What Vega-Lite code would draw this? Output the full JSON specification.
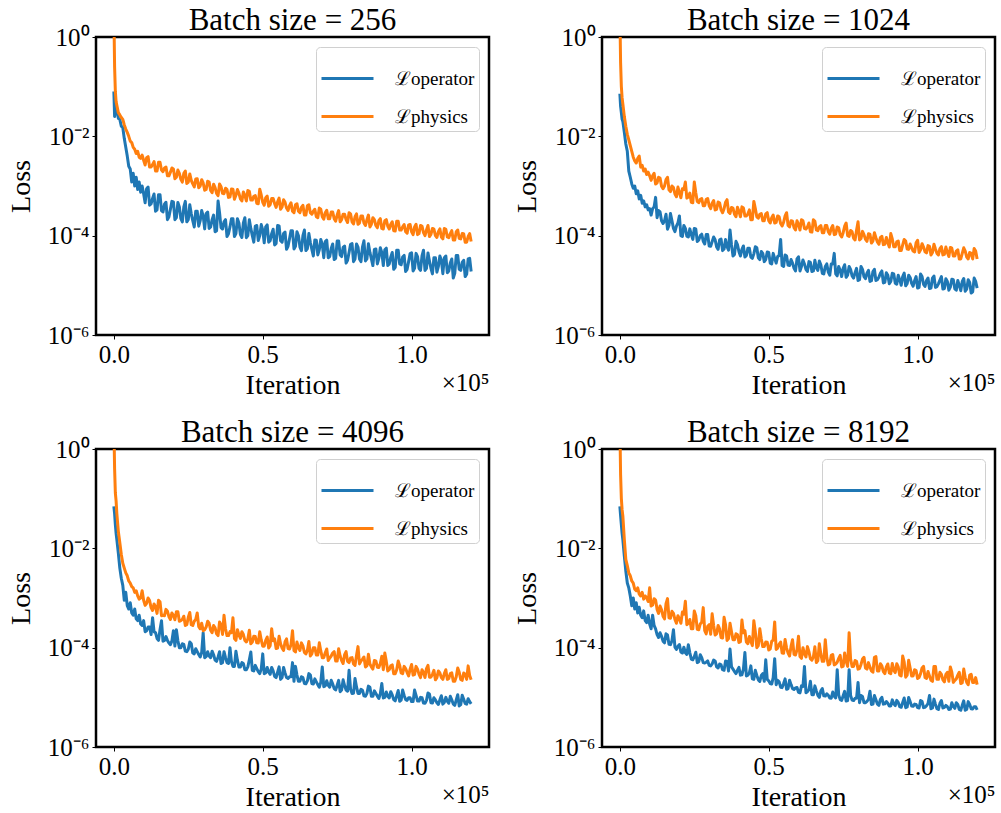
{
"$schema": "https://vega.github.io/schema/vega-lite/v6.json",
"padding": {"left": 5, "top": 3, "right": 0, "bottom": 0},
"bounds": "flush",
"spacing": {"row": 114, "column": 113},
"columns": 2,
"config": {
 "font": "Liberation Serif",
 "view": {"stroke": "black", "strokeWidth": 2.5},
 "axis": {"domain": false, "grid": false, "tickColor": "black", "tickSize": 4, "tickWidth": 1, "labelColor": "black", "titleColor": "black", "labelFont": "Liberation Serif", "titleFont": "Liberation Serif", "labelFontSize": 25, "titleFontSize": 28, "titleFontWeight": "normal", "labelPadding": 3},
 "title": {"font": "Liberation Serif", "fontSize": 31, "fontWeight": "normal", "color": "black", "offset": -12, "baseline": "alphabetic"},
 "legend": {"orient": "top-right", "offset": 10, "symbolType": "stroke", "symbolSize": 2704, "symbolStrokeWidth": 3, "labelFontSize": 19, "labelFont": "Liberation Serif", "labelColor": "black", "fillColor": "rgba(255,255,255,0.8)", "strokeColor": "#d0d0d0", "cornerRadius": 4, "padding": 4, "rowPadding": -1, "labelOffset": 20}
},
"resolve": {"scale": {"color": "independent"}, "legend": {"color": "independent"}},
"datasets": {
"d256": [
{"i":0,"o":8e-2,"p":3},{"i":250,"o":2.5e-2,"p":0.25},{"i":500,"o":5e-2,"p":8e-2},{"i":750,"o":2.8e-2,"p":5e-2},{"i":1000,"o":3.5e-2,"p":4.2e-2},{"i":1500,"o":2.3e-2,"p":3e-2},{"i":2000,"o":2.2e-2,"p":2.7e-2},{"i":2500,"o":1.6e-2,"p":2.4e-2},{"i":3000,"o":1.5e-2,"p":2.2e-2},{"i":3500,"o":9e-3,"p":1.7e-2},{"i":4000,"o":6e-3,"p":1.4e-2},{"i":4500,"o":4e-3,"p":1.2e-2},{"i":5000,"o":2.5e-3,"p":1e-2},{"i":5500,"o":2.2e-3,"p":8e-3},{"i":6000,"o":1.2e-3,"p":7.5e-3},{"i":6500,"o":1.8e-3,"p":6e-3},{"i":7000,"o":1e-3,"p":5.5e-3},{"i":7500,"o":1.5e-3,"p":4.5e-3},{"i":8000,"o":8.5e-4,"p":5e-3},{"i":8500,"o":1.2e-3,"p":3.8e-3},{"i":9000,"o":7.5e-4,"p":3.6e-3},{"i":9500,"o":1e-3,"p":4.2e-3},{"i":10000,"o":7e-4,"p":3.3e-3},
{"i":11000,"o":8.8e-4,"p":3.7e-3},{"i":12000,"o":4.1e-4,"p":2.4e-3},{"i":13000,"o":5.6e-4,"p":2.7e-3},{"i":14000,"o":3.1e-4,"p":2.0e-3},{"i":15000,"o":6.7e-4,"p":3.0e-3},{"i":16000,"o":3.2e-4,"p":2.1e-3},{"i":17000,"o":4.3e-4,"p":2.3e-3},{"i":18000,"o":2.1e-4,"p":1.6e-3},{"i":19000,"o":3.4e-4,"p":1.9e-3},{"i":20000,"o":4.8e-4,"p":2.2e-3},
{"i":21000,"o":2.3e-4,"p":1.5e-3},{"i":22000,"o":3.8e-4,"p":1.8e-3},{"i":23000,"o":1.9e-4,"p":1.2e-3},{"i":24000,"o":4.9e-4,"p":2.0e-3},{"i":25000,"o":2.1e-4,"p":1.2e-3},{"i":26000,"o":2.75e-4,"p":1.3e-3},{"i":27000,"o":1.5e-4,"p":9.6e-4},{"i":28000,"o":3.1e-4,"p":1.4e-3},{"i":29000,"o":2.0e-4,"p":1.0e-3},{"i":30000,"o":2.5e-4,"p":1.15e-3},
{"i":31000,"o":2.8e-4,"p":8.5e-4},{"i":32000,"o":1.4e-4,"p":1.2e-3},{"i":33000,"o":2.1e-4,"p":7.3e-4},{"i":34000,"o":1.2e-4,"p":9.3e-4},{"i":35000,"o":5.0e-4,"p":6.4e-4},{"i":36000,"o":1.45e-4,"p":9.7e-4},{"i":37000,"o":1.9e-4,"p":7.0e-4},{"i":38000,"o":9.6e-5,"p":8.5e-4},{"i":39000,"o":1.5e-4,"p":6.0e-4},{"i":40000,"o":2.2e-4,"p":8.6e-4},
{"i":41000,"o":1.1e-4,"p":6.5e-4},{"i":42000,"o":1.8e-4,"p":7.2e-4},{"i":43000,"o":9.2e-5,"p":5.0e-4},{"i":44000,"o":2.3e-4,"p":6.5e-4},{"i":45000,"o":1.0e-4,"p":8.1e-4},{"i":46000,"o":1.4e-4,"p":5.2e-4},{"i":47000,"o":7.4e-5,"p":6.2e-4},{"i":48000,"o":1.6e-4,"p":4.5e-4},{"i":49000,"o":1.0e-4,"p":8.6e-4},{"i":50000,"o":1.3e-4,"p":4.7e-4},
{"i":51000,"o":1.5e-4,"p":5.8e-4},{"i":52000,"o":7.4e-5,"p":3.9e-4},{"i":53000,"o":1.1e-4,"p":5.6e-4},{"i":54000,"o":6.5e-5,"p":4.4e-4},{"i":55000,"o":1.6e-4,"p":4.8e-4},{"i":56000,"o":7.9e-5,"p":3.4e-4},{"i":57000,"o":1.1e-4,"p":5.3e-4},{"i":58000,"o":5.3e-5,"p":3.6e-4},{"i":59000,"o":8.7e-5,"p":4.0e-4},{"i":60000,"o":1.25e-4,"p":3.1e-4},
{"i":61000,"o":6.1e-5,"p":4.2e-4},{"i":62000,"o":1.0e-4,"p":3.1e-4},{"i":63000,"o":5.0e-5,"p":3.7e-4},{"i":64000,"o":1.3e-4,"p":2.6e-4},{"i":65000,"o":5.5e-5,"p":4.0e-4},{"i":66000,"o":7.3e-5,"p":2.9e-4},{"i":67000,"o":3.9e-5,"p":3.1e-4},{"i":68000,"o":8.1e-5,"p":2.4e-4},{"i":69000,"o":5.2e-5,"p":3.6e-4},{"i":70000,"o":6.7e-5,"p":2.4e-4},
{"i":71000,"o":7.6e-5,"p":2.9e-4},{"i":72000,"o":3.6e-5,"p":2.2e-4},{"i":73000,"o":5.5e-5,"p":3.0e-4},{"i":74000,"o":3.3e-5,"p":2.2e-4},{"i":75000,"o":7.8e-5,"p":2.6e-4},{"i":76000,"o":4.1e-5,"p":1.9e-4},{"i":77000,"o":5.8e-5,"p":2.7e-4},{"i":78000,"o":2.8e-5,"p":2.1e-4},{"i":79000,"o":4.6e-5,"p":2.9e-4},{"i":80000,"o":6.9e-5,"p":1.9e-4},
{"i":81000,"o":3.4e-5,"p":2.4e-4},{"i":82000,"o":5.9e-5,"p":1.7e-4},{"i":83000,"o":3.0e-5,"p":2.5e-4},{"i":84000,"o":7.9e-5,"p":1.8e-4},{"i":85000,"o":3.4e-5,"p":2.1e-4},{"i":86000,"o":4.6e-5,"p":1.5e-4},{"i":87000,"o":2.5e-5,"p":2.3e-4},{"i":88000,"o":5.4e-5,"p":1.6e-4},{"i":89000,"o":3.5e-5,"p":2.0e-4},{"i":90000,"o":4.6e-5,"p":1.4e-4},
{"i":91000,"o":5.2e-5,"p":2.0e-4},{"i":92000,"o":2.5e-5,"p":1.55e-4},{"i":93000,"o":3.7e-5,"p":1.7e-4},{"i":94000,"o":2.1e-5,"p":1.25e-4},{"i":95000,"o":5.1e-5,"p":1.95e-4},{"i":96000,"o":2.7e-5,"p":1.3e-4},{"i":97000,"o":3.7e-5,"p":1.5e-4},{"i":98000,"o":1.9e-5,"p":1.2e-4},{"i":99000,"o":3.0e-5,"p":1.65e-4},{"i":100000,"o":4.5e-5,"p":1.2e-4},
{"i":101000,"o":2.2e-5,"p":1.5e-4},{"i":102000,"o":3.8e-5,"p":1.05e-4},{"i":103000,"o":2.0e-5,"p":1.6e-4},{"i":104000,"o":5.1e-5,"p":1.15e-4},{"i":105000,"o":2.2e-5,"p":1.3e-4},{"i":106000,"o":3.1e-5,"p":9.6e-5},{"i":107000,"o":1.7e-5,"p":1.4e-4},{"i":108000,"o":3.6e-5,"p":1.0e-4},{"i":109000,"o":2.4e-5,"p":1.2e-4},{"i":110000,"o":3.2e-5,"p":9.4e-5},
{"i":111000,"o":3.6e-5,"p":1.4e-4},{"i":112000,"o":1.8e-5,"p":9.4e-5},{"i":113000,"o":2.8e-5,"p":1.1e-4},{"i":114000,"o":1.4e-5,"p":8.2e-5},{"i":115000,"o":4.0e-5,"p":1.2e-4},{"i":116000,"o":2.1e-5,"p":8.8e-5},{"i":117000,"o":2.9e-5,"p":1.1e-4},{"i":118000,"o":1.5e-5,"p":7.4e-5},{"i":119000,"o":3.4e-5,"p":9.6e-5},{"i":120000,"o":1.9e-5,"p":7.6e-5},
{"i":10500,"o":4.6e-4,"p":2.65e-3},{"i":11500,"o":9.5e-4,"p":3.9e-3},{"i":12500,"o":4.35e-4,"p":2.4e-3},{"i":13500,"o":6.9e-4,"p":3.1e-3},{"i":14500,"o":3.3e-4,"p":2.0e-3},{"i":15500,"o":6.7e-4,"p":3.0e-3},{"i":16500,"o":3.0e-4,"p":1.94e-3},{"i":17500,"o":4.7e-4,"p":2.4e-3},{"i":18500,"o":2.4e-4,"p":1.6e-3},{"i":19500,"o":4.9e-4,"p":2.3e-3},
{"i":20500,"o":2.1e-4,"p":1.4e-3},{"i":21500,"o":4.65e-4,"p":2.1e-3},{"i":22500,"o":2.2e-4,"p":1.36e-3},{"i":23500,"o":3.8e-4,"p":1.8e-3},{"i":24500,"o":1.9e-4,"p":1.12e-3},{"i":25500,"o":4.2e-4,"p":1.75e-3},{"i":26500,"o":2.0e-4,"p":1.1e-3},{"i":27500,"o":3.1e-4,"p":1.38e-3},{"i":28500,"o":1.55e-4,"p":9.2e-4},{"i":29500,"o":3.2e-4,"p":1.34e-3},
{"i":30500,"o":1.37e-4,"p":8.2e-4},{"i":31500,"o":3.0e-4,"p":1.25e-3},{"i":32500,"o":1.5e-4,"p":8.1e-4},{"i":33500,"o":2.6e-4,"p":1.09e-3},{"i":34500,"o":1.26e-4,"p":7.1e-4},{"i":35500,"o":2.9e-4,"p":1.1e-3},{"i":36500,"o":1.36e-4,"p":7.1e-4},{"i":37500,"o":2.1e-4,"p":9.0e-4},{"i":38500,"o":1.09e-4,"p":5.9e-4},{"i":39500,"o":2.2e-4,"p":8.7e-4},
{"i":40500,"o":9.6e-5,"p":5.4e-4},{"i":41500,"o":2.2e-4,"p":8.5e-4},{"i":42500,"o":1.05e-4,"p":5.5e-4},{"i":43500,"o":1.8e-4,"p":7.6e-4},{"i":44500,"o":9.1e-5,"p":5.0e-4},{"i":45500,"o":2.1e-4,"p":7.8e-4},{"i":46500,"o":1.0e-4,"p":5.2e-4},{"i":47500,"o":1.56e-4,"p":6.4e-4},{"i":48500,"o":8.0e-5,"p":4.4e-4},{"i":49500,"o":1.67e-4,"p":6.6e-4},
{"i":50500,"o":7.2e-5,"p":4.1e-4},{"i":51500,"o":1.65e-4,"p":6.25e-4},{"i":52500,"o":7.9e-5,"p":4.2e-4},{"i":53500,"o":1.35e-4,"p":5.6e-4},{"i":54500,"o":7.0e-5,"p":3.7e-4},{"i":55500,"o":1.57e-4,"p":5.7e-4},{"i":56500,"o":7.4e-5,"p":3.8e-4},{"i":57500,"o":1.18e-4,"p":4.7e-4},{"i":58500,"o":6.1e-5,"p":3.2e-4},{"i":59500,"o":1.26e-4,"p":4.6e-4},
{"i":60500,"o":5.4e-5,"p":2.9e-4},{"i":61500,"o":1.2e-4,"p":4.4e-4},{"i":62500,"o":5.9e-5,"p":2.9e-4},{"i":63500,"o":1.0e-4,"p":4.1e-4},{"i":64500,"o":5.0e-5,"p":2.6e-4},{"i":65500,"o":1.1e-4,"p":4.2e-4},{"i":66500,"o":5.3e-5,"p":2.7e-4},{"i":67500,"o":8.2e-5,"p":3.4e-4},{"i":68500,"o":4.1e-5,"p":2.3e-4},{"i":69500,"o":8.4e-5,"p":3.4e-4},
{"i":70500,"o":3.6e-5,"p":2.15e-4},{"i":71500,"o":8.1e-5,"p":3.25e-4},{"i":72500,"o":3.8e-5,"p":2.2e-4},{"i":73500,"o":6.8e-5,"p":3.0e-4},{"i":74500,"o":3.5e-5,"p":1.96e-4},{"i":75500,"o":7.8e-5,"p":3.2e-4},{"i":76500,"o":3.8e-5,"p":2.1e-4},{"i":77500,"o":6.2e-5,"p":2.7e-4},{"i":78500,"o":3.2e-5,"p":1.84e-4},{"i":79500,"o":6.7e-5,"p":2.75e-4},
{"i":80500,"o":3.0e-5,"p":1.72e-4},{"i":81500,"o":6.8e-5,"p":2.75e-4},{"i":82500,"o":3.4e-5,"p":1.8e-4},{"i":83500,"o":5.9e-5,"p":2.5e-4},{"i":84500,"o":3.1e-5,"p":1.6e-4},{"i":85500,"o":6.9e-5,"p":2.6e-4},{"i":86500,"o":3.4e-5,"p":1.7e-4},{"i":87500,"o":5.3e-5,"p":2.1e-4},{"i":88500,"o":2.7e-5,"p":1.44e-4},{"i":89500,"o":5.7e-5,"p":2.2e-4},
{"i":90500,"o":2.5e-5,"p":1.36e-4},{"i":91500,"o":5.6e-5,"p":2.1e-4},{"i":92500,"o":2.7e-5,"p":1.36e-4},{"i":93500,"o":4.6e-5,"p":1.9e-4},{"i":94500,"o":2.3e-5,"p":1.24e-4},{"i":95500,"o":5.1e-5,"p":1.95e-4},{"i":96500,"o":2.6e-5,"p":1.3e-4},{"i":97500,"o":4.0e-5,"p":1.67e-4},{"i":98500,"o":2.1e-5,"p":1.12e-4},{"i":99500,"o":4.35e-5,"p":1.68e-4},
{"i":100500,"o":1.95e-5,"p":1.05e-4},{"i":101500,"o":4.4e-5,"p":1.7e-4},{"i":102500,"o":2.2e-5,"p":1.1e-4},{"i":103500,"o":3.9e-5,"p":1.56e-4},{"i":104500,"o":2.0e-5,"p":1.0e-4},{"i":105500,"o":4.5e-5,"p":1.6e-4},{"i":106500,"o":2.2e-5,"p":1.06e-4},{"i":107500,"o":3.6e-5,"p":1.35e-4},{"i":108500,"o":1.84e-5,"p":9.2e-5},{"i":109500,"o":3.9e-5,"p":1.37e-4},
{"i":110500,"o":1.72e-5,"p":8.6e-5},{"i":111500,"o":3.9e-5,"p":1.34e-4},{"i":112500,"o":1.95e-5,"p":9.1e-5},{"i":113500,"o":3.4e-5,"p":1.26e-4},{"i":114500,"o":1.75e-5,"p":8.2e-5},{"i":115500,"o":4.0e-5,"p":1.3e-4},{"i":116500,"o":2.0e-5,"p":8.6e-5},{"i":117500,"o":3.2e-5,"p":1.09e-4},{"i":118500,"o":1.67e-5,"p":7.4e-5},{"i":119500,"o":3.5e-5,"p":1.1e-4}
],
"d1024": [
{"i":0,"o":7.2e-2,"p":3},{"i":250,"o":4e-2,"p":0.3},{"i":500,"o":3e-2,"p":0.1},{"i":750,"o":2.2e-2,"p":6e-2},{"i":1000,"o":2e-2,"p":4.5e-2},{"i":1500,"o":1.2e-2,"p":2.5e-2},{"i":2000,"o":7e-3,"p":1.6e-2},{"i":2500,"o":5e-3,"p":1.1e-2},{"i":3000,"o":2e-3,"p":8.5e-3},{"i":3500,"o":1.5e-3,"p":6.5e-3},{"i":4000,"o":1.1e-3,"p":5e-3},{"i":4500,"o":9e-4,"p":3.8e-3},{"i":5000,"o":1e-3,"p":3.2e-3},{"i":5500,"o":7e-4,"p":2.9e-3},{"i":6000,"o":8e-4,"p":3.6e-3},{"i":6500,"o":5.5e-4,"p":4e-3},{"i":7000,"o":6.5e-4,"p":2.4e-3},{"i":7500,"o":4.5e-4,"p":2.6e-3},{"i":8000,"o":5e-4,"p":2e-3},{"i":8500,"o":3.8e-4,"p":2.2e-3},{"i":9000,"o":4.2e-4,"p":1.7e-3},{"i":9500,"o":3.3e-4,"p":1.9e-3},{"i":10000,"o":3.5e-4,"p":1.6e-3},
{"i":11000,"o":3.5e-4,"p":1.6e-3},{"i":12000,"o":5.9e-4,"p":1.1e-3},{"i":13000,"o":3.2e-4,"p":1.5e-3},{"i":14000,"o":2.0e-4,"p":9.9e-4},{"i":15000,"o":2.0e-4,"p":1.0e-3},{"i":16000,"o":1.35e-4,"p":1.5e-3},{"i":17000,"o":2.8e-4,"p":7.7e-4},{"i":18000,"o":1.4e-4,"p":9.3e-4},{"i":19000,"o":1.55e-4,"p":6.1e-4},{"i":20000,"o":2.5e-4,"p":7.4e-4},
{"i":21000,"o":9.6e-5,"p":8.8e-4},{"i":22000,"o":1.4e-4,"p":1.2e-3},{"i":23000,"o":9.4e-5,"p":6.0e-4},{"i":24000,"o":1.05e-4,"p":4.7e-4},{"i":25000,"o":1.4e-4,"p":1.2e-3},{"i":26000,"o":7.6e-5,"p":4.9e-4},{"i":27000,"o":1.0e-4,"p":5.4e-4},{"i":28000,"o":7.7e-5,"p":4.0e-4},{"i":29000,"o":1.05e-4,"p":5.4e-4},{"i":30000,"o":6.2e-5,"p":4.0e-4},
{"i":31000,"o":7.6e-5,"p":4.5e-4},{"i":32000,"o":8.3e-5,"p":3.3e-4},{"i":33000,"o":5.3e-5,"p":4.75e-4},{"i":34000,"o":8.5e-5,"p":3.3e-4},{"i":35000,"o":5.4e-5,"p":3.5e-4},{"i":36000,"o":6.0e-5,"p":5.3e-4},{"i":37000,"o":1.3e-4,"p":2.8e-4},{"i":38000,"o":3.9e-5,"p":3.6e-4},{"i":39000,"o":7.7e-5,"p":2.4e-4},{"i":40000,"o":4.75e-5,"p":3.1e-4},
{"i":41000,"o":5.3e-5,"p":3.8e-4},{"i":42000,"o":3.7e-5,"p":2.5e-4},{"i":43000,"o":5.6e-5,"p":2.75e-4},{"i":44000,"o":3.7e-5,"p":2.1e-4},{"i":45000,"o":4.3e-5,"p":4.9e-4},{"i":46000,"o":5.7e-5,"p":2.4e-4},{"i":47000,"o":3.3e-5,"p":2.7e-4},{"i":48000,"o":4.4e-5,"p":2.0e-4},{"i":49000,"o":3.3e-5,"p":2.75e-4},{"i":50000,"o":4.6e-5,"p":2.0e-4},
{"i":51000,"o":2.7e-5,"p":2.3e-4},{"i":52000,"o":3.5e-5,"p":1.8e-4},{"i":53000,"o":3.8e-5,"p":2.5e-4},{"i":54000,"o":8.4e-5,"p":1.75e-4},{"i":55000,"o":2.4e-5,"p":1.86e-4},{"i":56000,"o":3.9e-5,"p":2.9e-4},{"i":57000,"o":2.5e-5,"p":1.5e-4},{"i":58000,"o":2.8e-5,"p":1.95e-4},{"i":59000,"o":1.95e-5,"p":1.3e-4},{"i":60000,"o":3.75e-5,"p":1.7e-4},
{"i":61000,"o":2.4e-5,"p":2.1e-4},{"i":62000,"o":2.7e-5,"p":1.4e-4},{"i":63000,"o":1.9e-5,"p":1.5e-4},{"i":64000,"o":2.9e-5,"p":1.2e-4},{"i":65000,"o":1.95e-5,"p":2.1e-4},{"i":66000,"o":2.25e-5,"p":1.3e-4},{"i":67000,"o":3.1e-5,"p":1.5e-4},{"i":68000,"o":1.75e-5,"p":1.15e-4},{"i":69000,"o":2.4e-5,"p":1.6e-4},{"i":70000,"o":1.85e-5,"p":1.2e-4},
{"i":71000,"o":2.7e-5,"p":1.4e-4},{"i":72000,"o":4.4e-5,"p":1.05e-4},{"i":73000,"o":1.55e-5,"p":1.5e-4},{"i":74000,"o":2.0e-5,"p":1.05e-4},{"i":75000,"o":2.2e-5,"p":1.15e-4},{"i":76000,"o":1.45e-5,"p":1.8e-4},{"i":77000,"o":2.4e-5,"p":9.7e-5},{"i":78000,"o":1.55e-5,"p":1.2e-4},{"i":79000,"o":1.8e-5,"p":8.2e-5},{"i":80000,"o":1.25e-5,"p":1.9e-4},
{"i":81000,"o":2.4e-5,"p":8.8e-5},{"i":82000,"o":1.5e-5,"p":1.05e-4},{"i":83000,"o":1.75e-5,"p":7.7e-5},{"i":84000,"o":1.2e-5,"p":1.07e-4},{"i":85000,"o":1.9e-5,"p":7.8e-5},{"i":86000,"o":1.25e-5,"p":9.1e-5},{"i":87000,"o":1.45e-5,"p":6.7e-5},{"i":88000,"o":1.95e-5,"p":9.7e-5},{"i":89000,"o":1.15e-5,"p":6.7e-5},{"i":90000,"o":1.6e-5,"p":7.2e-5},
{"i":91000,"o":1.2e-5,"p":1.1e-4},{"i":92000,"o":1.7e-5,"p":6.0e-5},{"i":93000,"o":1.05e-5,"p":7.5e-5},{"i":94000,"o":1.3e-5,"p":5.0e-5},{"i":95000,"o":1.5e-5,"p":6.5e-5},{"i":96000,"o":9.8e-6,"p":7.8e-5},{"i":97000,"o":1.6e-5,"p":5.3e-5},{"i":98000,"o":1.1e-5,"p":5.75e-5},{"i":99000,"o":1.25e-5,"p":4.7e-5},{"i":100000,"o":8.8e-6,"p":8.1e-5},
{"i":101000,"o":1.7e-5,"p":5.2e-5},{"i":102000,"o":1.05e-5,"p":5.9e-5},{"i":103000,"o":1.25e-5,"p":4.5e-5},{"i":104000,"o":8.6e-6,"p":6.1e-5},{"i":105000,"o":1.4e-5,"p":4.6e-5},{"i":106000,"o":9.1e-6,"p":5.4e-5},{"i":107000,"o":1.07e-5,"p":4.1e-5},{"i":108000,"o":1.5e-5,"p":6.0e-5},{"i":109000,"o":8.6e-6,"p":4.2e-5},{"i":110000,"o":1.2e-5,"p":4.6e-5},
{"i":111000,"o":9.2e-6,"p":5.8e-5},{"i":112000,"o":1.3e-5,"p":3.9e-5},{"i":113000,"o":8.0e-6,"p":4.9e-5},{"i":114000,"o":1.0e-5,"p":3.4e-5},{"i":115000,"o":1.2e-5,"p":4.4e-5},{"i":116000,"o":7.6e-6,"p":4.9e-5},{"i":117000,"o":1.3e-5,"p":3.4e-5},{"i":118000,"o":7.0e-6,"p":4.4e-5},{"i":119000,"o":1.4e-5,"p":5.5e-5},{"i":120000,"o":8.8e-6,"p":3.4e-5},
{"i":10500,"o":2.6e-4,"p":1.3e-3},{"i":11500,"o":3.8e-4,"p":1.8e-3},{"i":12500,"o":2.3e-4,"p":1.15e-3},{"i":13500,"o":3.0e-4,"p":1.45e-3},{"i":14500,"o":1.76e-4,"p":8.8e-4},{"i":15500,"o":2.7e-4,"p":1.35e-3},{"i":16500,"o":1.6e-4,"p":8.4e-4},{"i":17500,"o":2.0e-4,"p":1.0e-3},{"i":18500,"o":1.2e-4,"p":6.9e-4},{"i":19500,"o":1.8e-4,"p":9.5e-4},
{"i":20500,"o":1.0e-4,"p":5.8e-4},{"i":21500,"o":1.6e-4,"p":8.5e-4},{"i":22500,"o":9.8e-5,"p":5.7e-4},{"i":23500,"o":1.37e-4,"p":7.2e-4},{"i":24500,"o":8.4e-5,"p":4.6e-4},{"i":25500,"o":1.37e-4,"p":7.3e-4},{"i":26500,"o":8.2e-5,"p":4.6e-4},{"i":27500,"o":1.07e-4,"p":5.6e-4},{"i":28500,"o":6.8e-5,"p":4.0e-4},{"i":29500,"o":1.05e-4,"p":5.6e-4},
{"i":30500,"o":6.1e-5,"p":3.5e-4},{"i":31500,"o":9.4e-5,"p":5.1e-4},{"i":32500,"o":5.9e-5,"p":3.4e-4},{"i":33500,"o":8.2e-5,"p":4.6e-4},{"i":34500,"o":5.0e-5,"p":2.9e-4},{"i":35500,"o":8.4e-5,"p":4.7e-4},{"i":36500,"o":5.1e-5,"p":3.0e-4},{"i":37500,"o":6.6e-5,"p":3.7e-4},{"i":38500,"o":4.2e-5,"p":2.7e-4},{"i":39500,"o":6.6e-5,"p":3.75e-4},
{"i":40500,"o":3.9e-5,"p":2.4e-4},{"i":41500,"o":6.2e-5,"p":3.6e-4},{"i":42500,"o":4.0e-5,"p":2.5e-4},{"i":43500,"o":5.6e-5,"p":3.3e-4},{"i":44500,"o":3.5e-5,"p":2.1e-4},{"i":45500,"o":6.0e-5,"p":3.5e-4},{"i":46500,"o":3.6e-5,"p":2.25e-4},{"i":47500,"o":4.8e-5,"p":2.8e-4},{"i":48500,"o":3.0e-5,"p":2.0e-4},{"i":49500,"o":4.7e-5,"p":2.9e-4},
{"i":50500,"o":2.8e-5,"p":1.8e-4},{"i":51500,"o":4.4e-5,"p":2.6e-4},{"i":52500,"o":2.8e-5,"p":1.85e-4},{"i":53500,"o":4.0e-5,"p":2.4e-4},{"i":54500,"o":2.5e-5,"p":1.56e-4},{"i":55500,"o":4.1e-5,"p":2.5e-4},{"i":56500,"o":2.55e-5,"p":1.6e-4},{"i":57500,"o":3.3e-5,"p":2.0e-4},{"i":58500,"o":2.2e-5,"p":1.45e-4},{"i":59500,"o":3.4e-5,"p":2.0e-4},
{"i":60500,"o":1.95e-5,"p":1.3e-4},{"i":61500,"o":3.25e-5,"p":2.0e-4},{"i":62500,"o":2.1e-5,"p":1.36e-4},{"i":63500,"o":3.0e-5,"p":1.8e-4},{"i":64500,"o":1.9e-5,"p":1.18e-4},{"i":65500,"o":3.2e-5,"p":1.95e-4},{"i":66500,"o":2.0e-5,"p":1.26e-4},{"i":67500,"o":2.6e-5,"p":1.6e-4},{"i":68500,"o":1.7e-5,"p":1.15e-4},{"i":69500,"o":2.7e-5,"p":1.6e-4},
{"i":70500,"o":1.6e-5,"p":1.07e-4},{"i":71500,"o":2.7e-5,"p":1.6e-4},{"i":72500,"o":1.7e-5,"p":1.08e-4},{"i":73500,"o":2.4e-5,"p":1.44e-4},{"i":74500,"o":1.5e-5,"p":9.4e-5},{"i":75500,"o":2.6e-5,"p":1.55e-4},{"i":76500,"o":1.6e-5,"p":1.0e-4},{"i":77500,"o":2.1e-5,"p":1.27e-4},{"i":78500,"o":1.4e-5,"p":8.9e-5},{"i":79500,"o":2.2e-5,"p":1.28e-4},
{"i":80500,"o":1.3e-5,"p":8.2e-5},{"i":81500,"o":2.1e-5,"p":1.22e-4},{"i":82500,"o":1.36e-5,"p":8.4e-5},{"i":83500,"o":2.0e-5,"p":1.09e-4},{"i":84500,"o":1.24e-5,"p":7.1e-5},{"i":85500,"o":2.1e-5,"p":1.15e-4},{"i":86500,"o":1.3e-5,"p":7.5e-5},{"i":87500,"o":1.74e-5,"p":9.1e-5},{"i":88500,"o":1.12e-5,"p":6.6e-5},{"i":89500,"o":1.8e-5,"p":9.2e-5},
{"i":90500,"o":1.08e-5,"p":5.9e-5},{"i":91500,"o":1.75e-5,"p":8.6e-5},{"i":92500,"o":1.1e-5,"p":6.0e-5},{"i":93500,"o":1.6e-5,"p":7.8e-5},{"i":94500,"o":1.0e-5,"p":5.0e-5},{"i":95500,"o":1.76e-5,"p":8.4e-5},{"i":96500,"o":1.08e-5,"p":5.4e-5},{"i":97500,"o":1.44e-5,"p":6.8e-5},{"i":98500,"o":9.6e-6,"p":4.9e-5},{"i":99500,"o":1.5e-5,"p":7.2e-5},
{"i":100500,"o":9.1e-6,"p":4.6e-5},{"i":101500,"o":1.5e-5,"p":6.9e-5},{"i":102500,"o":9.5e-6,"p":4.75e-5},{"i":103500,"o":1.4e-5,"p":6.3e-5},{"i":104500,"o":8.8e-6,"p":4.1e-5},{"i":105500,"o":1.54e-5,"p":6.75e-5},{"i":106500,"o":9.4e-6,"p":4.4e-5},{"i":107500,"o":1.28e-5,"p":5.5e-5},{"i":108500,"o":8.4e-6,"p":4.1e-5},{"i":109500,"o":1.36e-5,"p":5.9e-5},
{"i":110500,"o":8.0e-6,"p":3.8e-5},{"i":111500,"o":1.33e-5,"p":5.6e-5},{"i":112500,"o":8.5e-6,"p":3.9e-5},{"i":113500,"o":1.25e-5,"p":5.2e-5},{"i":114500,"o":7.8e-6,"p":3.4e-5},{"i":115500,"o":1.37e-5,"p":5.7e-5},{"i":116500,"o":8.4e-6,"p":3.7e-5},{"i":117500,"o":1.14e-5,"p":4.6e-5},{"i":118500,"o":7.4e-6,"p":3.4e-5},{"i":119500,"o":1.2e-5,"p":4.9e-5}
],
"d4096": [
{"i":0,"o":7e-2,"p":3},{"i":250,"o":5e-2,"p":0.4},{"i":500,"o":3e-2,"p":0.13},{"i":750,"o":2e-2,"p":9e-2},{"i":1000,"o":1.5e-2,"p":5e-2},{"i":1500,"o":8e-3,"p":2.2e-2},{"i":2000,"o":4e-3,"p":1.3e-2},{"i":2500,"o":2.5e-3,"p":7.5e-3},{"i":3000,"o":1.8e-3,"p":5e-3},{"i":3500,"o":9e-4,"p":4e-3},{"i":4000,"o":1.3e-3,"p":3.2e-3},{"i":4500,"o":7e-4,"p":2.8e-3},{"i":5000,"o":6e-4,"p":2.2e-3},{"i":5500,"o":8e-4,"p":2e-3},{"i":6000,"o":5e-4,"p":1.7e-3},{"i":6500,"o":4.5e-4,"p":1.6e-3},{"i":7000,"o":6e-4,"p":1.3e-3},{"i":7500,"o":3.8e-4,"p":1.4e-3},{"i":8000,"o":3.5e-4,"p":1.1e-3},{"i":8500,"o":4.5e-4,"p":9.5e-4},{"i":9000,"o":3e-4,"p":1e-3},{"i":9500,"o":2.8e-4,"p":1.4e-3},{"i":10000,"o":3.5e-4,"p":9e-4},
{"i":11000,"o":2.2e-4,"p":7.8e-4},{"i":12000,"o":2.6e-4,"p":8.9e-4},{"i":13000,"o":4.0e-4,"p":5.6e-4},{"i":14000,"o":2.0e-4,"p":6.6e-4},{"i":15000,"o":1.4e-4,"p":9.0e-4},{"i":16000,"o":3.5e-4,"p":4.4e-4},{"i":17000,"o":1.4e-4,"p":4.4e-4},{"i":18000,"o":1.4e-4,"p":5.4e-4},{"i":19000,"o":1.15e-4,"p":3.7e-4},{"i":20000,"o":2.2e-4,"p":4.5e-4},
{"i":21000,"o":2.3e-4,"p":5.3e-4},{"i":22000,"o":1.0e-4,"p":3.4e-4},{"i":23000,"o":1.2e-4,"p":3.7e-4},{"i":24000,"o":8.5e-5,"p":2.8e-4},{"i":25000,"o":9.3e-5,"p":4.1e-4},{"i":26000,"o":1.2e-4,"p":2.9e-4},{"i":27000,"o":7.5e-5,"p":3.4e-4},{"i":28000,"o":8.3e-5,"p":5.0e-4},{"i":29000,"o":6.5e-5,"p":2.4e-4},{"i":30000,"o":2.0e-4,"p":2.2e-4},
{"i":31000,"o":6.6e-5,"p":2.6e-4},{"i":32000,"o":6.8e-5,"p":3.1e-4},{"i":33000,"o":8.5e-5,"p":2.0e-4},{"i":34000,"o":5.6e-5,"p":2.5e-4},{"i":35000,"o":6.5e-5,"p":1.75e-4},{"i":36000,"o":4.8e-5,"p":2.9e-4},{"i":37000,"o":8.3e-5,"p":4.5e-4},{"i":38000,"o":5.0e-5,"p":1.75e-4},{"i":39000,"o":1.0e-4,"p":2.1e-4},{"i":40000,"o":4.2e-5,"p":4.0e-4},
{"i":41000,"o":8.5e-5,"p":1.4e-4},{"i":42000,"o":4.1e-5,"p":1.8e-4},{"i":43000,"o":5.0e-5,"p":2.1e-4},{"i":44000,"o":3.6e-5,"p":1.4e-4},{"i":45000,"o":4.1e-5,"p":1.5e-4},{"i":46000,"o":8.2e-5,"p":1.2e-4},{"i":47000,"o":3.4e-5,"p":1.7e-4},{"i":48000,"o":3.8e-5,"p":1.25e-4},{"i":49000,"o":3.0e-5,"p":2.1e-4},{"i":50000,"o":7.5e-5,"p":1.07e-4},
{"i":51000,"o":3.1e-5,"p":1.4e-4},{"i":52000,"o":3.2e-5,"p":9.8e-5},{"i":53000,"o":4.0e-5,"p":2.4e-4},{"i":54000,"o":2.65e-5,"p":1.5e-4},{"i":55000,"o":3.2e-5,"p":9.8e-5},{"i":56000,"o":2.3e-5,"p":1.2e-4},{"i":57000,"o":4.0e-5,"p":8.8e-5},{"i":58000,"o":2.5e-5,"p":1.5e-4},{"i":59000,"o":2.6e-5,"p":9.4e-5},{"i":60000,"o":5.0e-5,"p":2.2e-4},
{"i":61000,"o":4.2e-5,"p":8.2e-5},{"i":62000,"o":2.1e-5,"p":1.0e-4},{"i":63000,"o":2.6e-5,"p":1.25e-4},{"i":64000,"o":1.9e-5,"p":8.0e-5},{"i":65000,"o":2.15e-5,"p":8.9e-5},{"i":66000,"o":2.8e-5,"p":6.8e-5},{"i":67000,"o":1.85e-5,"p":1.0e-4},{"i":68000,"o":2.05e-5,"p":7.1e-5},{"i":69000,"o":1.6e-5,"p":1.25e-4},{"i":70000,"o":4.1e-5,"p":6.3e-5},
{"i":71000,"o":1.7e-5,"p":7.9e-5},{"i":72000,"o":1.74e-5,"p":5.5e-5},{"i":73000,"o":2.2e-5,"p":6.8e-5},{"i":74000,"o":1.5e-5,"p":8.3e-5},{"i":75000,"o":1.75e-5,"p":5.4e-5},{"i":76000,"o":1.3e-5,"p":6.8e-5},{"i":77000,"o":2.25e-5,"p":4.8e-5},{"i":78000,"o":1.4e-5,"p":8.3e-5},{"i":79000,"o":3.5e-5,"p":5.0e-5},{"i":80000,"o":1.2e-5,"p":6.3e-5},
{"i":81000,"o":2.4e-5,"p":4.4e-5},{"i":82000,"o":1.2e-5,"p":1.05e-4},{"i":83000,"o":1.45e-5,"p":5.4e-5},{"i":84000,"o":1.07e-5,"p":6.5e-5},{"i":85000,"o":1.2e-5,"p":4.3e-5},{"i":86000,"o":1.6e-5,"p":4.7e-5},{"i":87000,"o":1.05e-5,"p":3.7e-5},{"i":88000,"o":1.2e-5,"p":5.4e-5},{"i":89000,"o":9.5e-6,"p":4.0e-5},{"i":90000,"o":1.9e-5,"p":6.7e-5},
{"i":91000,"o":1.0e-5,"p":7.8e-5},{"i":92000,"o":1.05e-5,"p":3.4e-5},{"i":93000,"o":1.3e-5,"p":4.3e-5},{"i":94000,"o":9.0e-6,"p":3.0e-5},{"i":95000,"o":1.08e-5,"p":3.6e-5},{"i":96000,"o":8.3e-6,"p":4.4e-5},{"i":97000,"o":1.4e-5,"p":3.0e-5},{"i":98000,"o":9.0e-6,"p":3.8e-5},{"i":99000,"o":9.8e-6,"p":2.7e-5},{"i":100000,"o":8.2e-6,"p":4.6e-5},
{"i":101000,"o":1.4e-5,"p":2.9e-5},{"i":102000,"o":8.4e-6,"p":3.7e-5},{"i":103000,"o":1.0e-5,"p":2.5e-5},{"i":104000,"o":7.7e-6,"p":3.2e-5},{"i":105000,"o":8.7e-6,"p":3.8e-5},{"i":106000,"o":1.17e-5,"p":2.55e-5},{"i":107000,"o":7.7e-6,"p":2.9e-5},{"i":108000,"o":8.9e-6,"p":2.25e-5},{"i":109000,"o":7.2e-6,"p":3.4e-5},{"i":110000,"o":1.08e-5,"p":2.5e-5},
{"i":111000,"o":7.9e-6,"p":3.0e-5},{"i":112000,"o":8.3e-6,"p":2.3e-5},{"i":113000,"o":1.05e-5,"p":3.0e-5},{"i":114000,"o":7.3e-6,"p":2.1e-5},{"i":115000,"o":8.9e-6,"p":2.6e-5},{"i":116000,"o":6.7e-6,"p":3.2e-5},{"i":117000,"o":1.1e-5,"p":2.2e-5},{"i":118000,"o":7.5e-6,"p":2.9e-5},{"i":119000,"o":9.4e-6,"p":4.3e-5},{"i":120000,"o":7.4e-6,"p":2.25e-5},
{"i":10500,"o":2.1e-4,"p":7.1e-4},{"i":11500,"o":2.6e-4,"p":1.0e-3},{"i":12500,"o":1.84e-4,"p":6.4e-4},{"i":13500,"o":2.1e-4,"p":7.6e-4},{"i":14500,"o":1.53e-4,"p":4.9e-4},{"i":15500,"o":2.3e-4,"p":8.4e-4},{"i":16500,"o":1.35e-4,"p":4.5e-4},{"i":17500,"o":1.67e-4,"p":5.9e-4},{"i":18500,"o":1.24e-4,"p":4.2e-4},{"i":19500,"o":1.37e-4,"p":5.0e-4},
{"i":20500,"o":1.08e-4,"p":3.65e-4},{"i":21500,"o":1.38e-4,"p":5.3e-4},{"i":22500,"o":1.0e-4,"p":3.5e-4},{"i":23500,"o":1.16e-4,"p":4.3e-4},{"i":24500,"o":8.3e-5,"p":2.9e-4},{"i":25500,"o":1.3e-4,"p":5.1e-4},{"i":26500,"o":7.8e-5,"p":2.8e-4},{"i":27500,"o":9.5e-5,"p":3.7e-4},{"i":28500,"o":7.3e-5,"p":2.65e-4},{"i":29500,"o":8.0e-5,"p":3.1e-4},
{"i":30500,"o":6.3e-5,"p":2.3e-4},{"i":31500,"o":8.3e-5,"p":3.4e-4},{"i":32500,"o":6.3e-5,"p":2.25e-4},{"i":33500,"o":7.2e-5,"p":2.8e-4},{"i":34500,"o":5.3e-5,"p":1.9e-4},{"i":35500,"o":8.3e-5,"p":3.3e-4},{"i":36500,"o":5.0e-5,"p":1.85e-4},{"i":37500,"o":6.3e-5,"p":2.4e-4},{"i":38500,"o":4.8e-5,"p":1.75e-4},{"i":39500,"o":5.25e-5,"p":2.0e-4},
{"i":40500,"o":4.2e-5,"p":1.53e-4},{"i":41500,"o":5.6e-5,"p":2.3e-4},{"i":42500,"o":4.1e-5,"p":1.53e-4},{"i":43500,"o":4.8e-5,"p":1.84e-4},{"i":44500,"o":3.6e-5,"p":1.3e-4},{"i":45500,"o":5.7e-5,"p":2.25e-4},{"i":46500,"o":3.5e-5,"p":1.3e-4},{"i":47500,"o":4.4e-5,"p":1.68e-4},{"i":48500,"o":3.3e-5,"p":1.24e-4},{"i":49500,"o":3.7e-5,"p":1.43e-4},
{"i":50500,"o":3.0e-5,"p":1.07e-4},{"i":51500,"o":4.0e-5,"p":1.64e-4},{"i":52500,"o":2.9e-5,"p":1.1e-4},{"i":53500,"o":3.4e-5,"p":1.38e-4},{"i":54500,"o":2.5e-5,"p":9.6e-5},{"i":55500,"o":4.1e-5,"p":1.7e-4},{"i":56500,"o":2.5e-5,"p":9.9e-5},{"i":57500,"o":3.1e-5,"p":1.32e-4},{"i":58500,"o":2.4e-5,"p":9.6e-5},{"i":59500,"o":2.6e-5,"p":1.15e-4},
{"i":60500,"o":2.1e-5,"p":8.7e-5},{"i":61500,"o":2.8e-5,"p":1.3e-4},{"i":62500,"o":2.1e-5,"p":8.8e-5},{"i":63500,"o":2.5e-5,"p":1.09e-4},{"i":64500,"o":1.87e-5,"p":7.5e-5},{"i":65500,"o":3.0e-5,"p":1.33e-4},{"i":66500,"o":1.9e-5,"p":7.5e-5},{"i":67500,"o":2.35e-5,"p":1.0e-4},{"i":68500,"o":1.8e-5,"p":7.1e-5},{"i":69500,"o":2.0e-5,"p":8.6e-5},
{"i":70500,"o":1.64e-5,"p":6.3e-5},{"i":71500,"o":2.16e-5,"p":9.4e-5},{"i":72500,"o":1.6e-5,"p":6.2e-5},{"i":73500,"o":1.87e-5,"p":7.8e-5},{"i":74500,"o":1.41e-5,"p":5.4e-5},{"i":75500,"o":2.2e-5,"p":9.5e-5},{"i":76500,"o":1.4e-5,"p":5.5e-5},{"i":77500,"o":1.73e-5,"p":7.2e-5},{"i":78500,"o":1.33e-5,"p":5.3e-5},{"i":79500,"o":1.47e-5,"p":6.2e-5},
{"i":80500,"o":1.21e-5,"p":4.7e-5},{"i":81500,"o":1.62e-5,"p":7.0e-5},{"i":82500,"o":1.2e-5,"p":4.7e-5},{"i":83500,"o":1.39e-5,"p":5.9e-5},{"i":84500,"o":1.05e-5,"p":4.1e-5},{"i":85500,"o":1.68e-5,"p":7.4e-5},{"i":86500,"o":1.05e-5,"p":4.1e-5},{"i":87500,"o":1.35e-5,"p":5.5e-5},{"i":88500,"o":1.06e-5,"p":4.05e-5},{"i":89500,"o":1.18e-5,"p":4.8e-5},
{"i":90500,"o":9.7e-6,"p":3.6e-5},{"i":91500,"o":1.28e-5,"p":5.3e-5},{"i":92500,"o":9.7e-6,"p":3.6e-5},{"i":93500,"o":1.12e-5,"p":4.5e-5},{"i":94500,"o":8.5e-6,"p":3.0e-5},{"i":95500,"o":1.37e-5,"p":5.4e-5},{"i":96500,"o":8.8e-6,"p":3.1e-5},{"i":97500,"o":1.09e-5,"p":4.2e-5},{"i":98500,"o":8.7e-6,"p":3.15e-5},{"i":99500,"o":9.8e-6,"p":3.7e-5},
{"i":100500,"o":8.2e-6,"p":2.8e-5},{"i":101500,"o":1.09e-5,"p":4.2e-5},{"i":102500,"o":8.4e-6,"p":2.9e-5},{"i":103500,"o":9.8e-6,"p":3.6e-5},{"i":104500,"o":7.6e-6,"p":2.5e-5},{"i":105500,"o":1.22e-5,"p":4.4e-5},{"i":106500,"o":7.8e-6,"p":2.55e-5},{"i":107500,"o":9.8e-6,"p":3.5e-5},{"i":108500,"o":7.8e-6,"p":2.5e-5},{"i":109500,"o":8.9e-6,"p":3.1e-5},
{"i":110500,"o":7.3e-6,"p":2.3e-5},{"i":111500,"o":1.0e-5,"p":3.6e-5},{"i":112500,"o":7.6e-6,"p":2.4e-5},{"i":113500,"o":8.9e-6,"p":3.1e-5},{"i":114500,"o":6.9e-6,"p":2.1e-5},{"i":115500,"o":1.13e-5,"p":3.9e-5},{"i":116500,"o":7.1e-6,"p":2.3e-5},{"i":117500,"o":9.1e-6,"p":3.1e-5},{"i":118500,"o":7.3e-6,"p":2.3e-5},{"i":119500,"o":8.2e-6,"p":2.75e-5}
],
"d8192": [
{"i":0,"o":7e-2,"p":3},{"i":250,"o":4.5e-2,"p":0.3},{"i":500,"o":3e-2,"p":0.1},{"i":750,"o":2e-2,"p":6e-2},{"i":1000,"o":1.5e-2,"p":4.5e-2},{"i":1500,"o":7e-3,"p":1.5e-2},{"i":2000,"o":3.5e-3,"p":6e-3},{"i":2500,"o":2e-3,"p":4.5e-3},{"i":3000,"o":1.6e-3,"p":3.2e-3},{"i":3500,"o":1.1e-3,"p":2.8e-3},{"i":4000,"o":7e-4,"p":2.2e-3},{"i":4500,"o":1e-3,"p":2e-3},{"i":5000,"o":6e-4,"p":1.5e-3},{"i":5500,"o":8e-4,"p":1.4e-3},{"i":6000,"o":5e-4,"p":1.6e-3},{"i":6500,"o":6.5e-4,"p":1.2e-3},{"i":7000,"o":4.5e-4,"p":1.1e-3},{"i":7500,"o":4e-4,"p":1.3e-3},{"i":8000,"o":5.5e-4,"p":9.5e-4},{"i":8500,"o":3.5e-4,"p":1.1e-3},{"i":9000,"o":3.2e-4,"p":1e-3},{"i":9500,"o":4.5e-4,"p":8.5e-4},{"i":10000,"o":3e-4,"p":1.6e-3},
{"i":11000,"o":4.5e-4,"p":7.2e-4},{"i":12000,"o":2.4e-4,"p":9.1e-4},{"i":13000,"o":1.6e-4,"p":4.9e-4},{"i":14000,"o":1.7e-4,"p":5.8e-4},{"i":15000,"o":1.25e-4,"p":3.8e-4},{"i":16000,"o":1.8e-4,"p":9.7e-4},{"i":17000,"o":1.15e-4,"p":3.9e-4},{"i":18000,"o":2.3e-4,"p":4.9e-4},{"i":19000,"o":9.2e-5,"p":3.1e-4},{"i":20000,"o":1.15e-4,"p":3.8e-4},
{"i":21000,"o":7.8e-5,"p":5.2e-4},{"i":22000,"o":7.9e-5,"p":8.6e-4},{"i":23000,"o":1.15e-4,"p":3.1e-4},{"i":24000,"o":5.9e-5,"p":2.4e-4},{"i":25000,"o":6.6e-5,"p":5.5e-4},{"i":26000,"o":5.0e-5,"p":2.35e-4},{"i":27000,"o":7.2e-5,"p":3.0e-4},{"i":28000,"o":5.0e-5,"p":6.4e-4},{"i":29000,"o":5.1e-5,"p":1.9e-4},{"i":30000,"o":4.4e-5,"p":2.9e-4},
{"i":31000,"o":4.7e-5,"p":4.8e-4},{"i":32000,"o":5.4e-5,"p":1.8e-4},{"i":33000,"o":3.9e-5,"p":2.8e-4},{"i":34000,"o":4.5e-5,"p":1.6e-4},{"i":35000,"o":3.5e-5,"p":4.1e-4},{"i":36000,"o":5.3e-5,"p":1.4e-4},{"i":37000,"o":9.4e-5,"p":3.1e-4},{"i":38000,"o":3.7e-5,"p":1.45e-4},{"i":39000,"o":3.0e-5,"p":1.9e-4},{"i":40000,"o":4.0e-5,"p":1.27e-4},
{"i":41000,"o":2.85e-5,"p":3.6e-4},{"i":42000,"o":8.0e-5,"p":2.2e-4},{"i":43000,"o":2.8e-5,"p":1.2e-4},{"i":44000,"o":4.3e-5,"p":1.35e-4},{"i":45000,"o":2.3e-5,"p":3.5e-4},{"i":46000,"o":2.75e-5,"p":1.0e-4},{"i":47000,"o":2.1e-5,"p":2.4e-4},{"i":48000,"o":3.0e-5,"p":1.05e-4},{"i":49000,"o":5.7e-5,"p":1.3e-4},{"i":50000,"o":2.15e-5,"p":9.0e-5},
{"i":51000,"o":1.85e-5,"p":1.35e-4},{"i":52000,"o":6.0e-5,"p":3.3e-4},{"i":53000,"o":2.2e-5,"p":9.8e-5},{"i":54000,"o":1.6e-5,"p":1.3e-4},{"i":55000,"o":1.9e-5,"p":7.7e-5},{"i":56000,"o":1.45e-5,"p":9.8e-5},{"i":57000,"o":2.2e-5,"p":6.8e-5},{"i":58000,"o":1.5e-5,"p":1.45e-4},{"i":59000,"o":1.55e-5,"p":7.1e-5},{"i":60000,"o":1.26e-5,"p":1.7e-4},
{"i":61000,"o":1.7e-5,"p":6.1e-5},{"i":62000,"o":4.2e-5,"p":7.6e-5},{"i":63000,"o":1.3e-5,"p":1.05e-4},{"i":64000,"o":2.1e-5,"p":6.0e-5},{"i":65000,"o":1.13e-5,"p":6.5e-5},{"i":66000,"o":1.35e-5,"p":5.0e-5},{"i":67000,"o":1.0e-5,"p":1.2e-4},{"i":68000,"o":1.5e-5,"p":5.3e-5},{"i":69000,"o":1.06e-5,"p":1.45e-4},{"i":70000,"o":1.1e-5,"p":4.5e-5},
{"i":71000,"o":9.6e-6,"p":7.0e-5},{"i":72000,"o":1.05e-5,"p":4.5e-5},{"i":73000,"o":3.6e-5,"p":5.1e-5},{"i":74000,"o":9.0e-6,"p":7.0e-5},{"i":75000,"o":1.08e-5,"p":4.2e-5},{"i":76000,"o":8.4e-6,"p":5.3e-5},{"i":77000,"o":3.6e-5,"p":2.0e-4},{"i":78000,"o":8.8e-6,"p":4.2e-5},{"i":79000,"o":9.6e-6,"p":5.5e-5},{"i":80000,"o":2.0e-5,"p":3.7e-5},
{"i":81000,"o":1.09e-5,"p":4.6e-5},{"i":82000,"o":7.8e-6,"p":6.4e-5},{"i":83000,"o":8.3e-6,"p":3.7e-5},{"i":84000,"o":1.33e-5,"p":4.1e-5},{"i":85000,"o":7.3e-6,"p":3.2e-5},{"i":86000,"o":8.9e-6,"p":6.6e-5},{"i":87000,"o":6.9e-6,"p":3.4e-5},{"i":88000,"o":1.0e-5,"p":4.3e-5},{"i":89000,"o":7.4e-6,"p":3.0e-5},{"i":90000,"o":7.6e-6,"p":4.7e-5},
{"i":91000,"o":6.7e-6,"p":3.0e-5},{"i":92000,"o":7.4e-6,"p":3.5e-5},{"i":93000,"o":8.7e-6,"p":4.75e-5},{"i":94000,"o":6.5e-6,"p":2.8e-5},{"i":95000,"o":7.9e-6,"p":6.8e-5},{"i":96000,"o":6.2e-6,"p":2.55e-5},{"i":97000,"o":9.9e-6,"p":5.6e-5},{"i":98000,"o":6.7e-6,"p":2.7e-5},{"i":99000,"o":7.3e-6,"p":3.6e-5},{"i":100000,"o":6.2e-6,"p":2.4e-5},
{"i":101000,"o":8.6e-6,"p":3.0e-5},{"i":102000,"o":6.2e-6,"p":4.2e-5},{"i":103000,"o":6.8e-6,"p":2.4e-5},{"i":104000,"o":1.09e-5,"p":2.7e-5},{"i":105000,"o":6.1e-6,"p":2.1e-5},{"i":106000,"o":7.3e-6,"p":4.2e-5},{"i":107000,"o":5.7e-6,"p":2.3e-5},{"i":108000,"o":8.6e-6,"p":2.9e-5},{"i":109000,"o":6.3e-6,"p":2.05e-5},{"i":110000,"o":6.5e-6,"p":3.2e-5},
{"i":111000,"o":5.8e-6,"p":4.1e-5},{"i":112000,"o":6.5e-6,"p":2.0e-5},{"i":113000,"o":7.8e-6,"p":2.35e-5},{"i":114000,"o":5.7e-6,"p":3.2e-5},{"i":115000,"o":6.9e-6,"p":1.95e-5},{"i":116000,"o":5.5e-6,"p":2.5e-5},{"i":117000,"o":8.2e-6,"p":1.8e-5},{"i":118000,"o":5.9e-6,"p":2.9e-5},{"i":119000,"o":6.5e-6,"p":2.0e-5},{"i":120000,"o":5.6e-6,"p":1.8e-5},
{"i":10500,"o":2.4e-4,"p":6.9e-4},{"i":11500,"o":2.8e-4,"p":9.7e-4},{"i":12500,"o":1.84e-4,"p":5.9e-4},{"i":13500,"o":2.0e-4,"p":6.9e-4},{"i":14500,"o":1.35e-4,"p":4.3e-4},{"i":15500,"o":1.9e-4,"p":7.7e-4},{"i":16500,"o":1.17e-4,"p":4.0e-4},{"i":17500,"o":1.38e-4,"p":5.4e-4},{"i":18500,"o":1.02e-4,"p":3.7e-4},{"i":19500,"o":1.07e-4,"p":4.4e-4},
{"i":20500,"o":8.2e-5,"p":3.1e-4},{"i":21500,"o":1.02e-4,"p":4.7e-4},{"i":22500,"o":7.3e-5,"p":2.9e-4},{"i":23500,"o":7.9e-5,"p":3.7e-4},{"i":24500,"o":5.7e-5,"p":2.4e-4},{"i":25500,"o":8.1e-5,"p":4.4e-4},{"i":26500,"o":5.2e-5,"p":2.3e-4},{"i":27500,"o":6.3e-5,"p":3.25e-4},{"i":28500,"o":4.9e-5,"p":2.2e-4},{"i":29500,"o":5.4e-5,"p":2.7e-4},
{"i":30500,"o":4.3e-5,"p":1.87e-4},{"i":31500,"o":5.6e-5,"p":2.8e-4},{"i":32500,"o":4.1e-5,"p":1.9e-4},{"i":33500,"o":4.7e-5,"p":2.4e-4},{"i":34500,"o":3.6e-5,"p":1.56e-4},{"i":35500,"o":5.4e-5,"p":2.9e-4},{"i":36500,"o":3.4e-5,"p":1.53e-4},{"i":37500,"o":4.1e-5,"p":2.1e-4},{"i":38500,"o":3.3e-5,"p":1.44e-4},{"i":39500,"o":3.5e-5,"p":1.84e-4},
{"i":40500,"o":2.8e-5,"p":1.32e-4},{"i":41500,"o":3.7e-5,"p":2.0e-4},{"i":42500,"o":2.7e-5,"p":1.3e-4},{"i":43500,"o":3.1e-5,"p":1.68e-4},{"i":44500,"o":2.35e-5,"p":1.1e-4},{"i":45500,"o":3.5e-5,"p":2.1e-4},{"i":46500,"o":2.25e-5,"p":1.1e-4},{"i":47500,"o":2.75e-5,"p":1.5e-4},{"i":48500,"o":2.1e-5,"p":1.05e-4},{"i":49500,"o":2.3e-5,"p":1.29e-4},
{"i":50500,"o":1.9e-5,"p":9.4e-5},{"i":51500,"o":2.5e-5,"p":1.42e-4},{"i":52500,"o":1.8e-5,"p":9.2e-5},{"i":53500,"o":2.05e-5,"p":1.18e-4},{"i":54500,"o":1.57e-5,"p":7.8e-5},{"i":55500,"o":2.35e-5,"p":1.46e-4},{"i":56500,"o":1.5e-5,"p":7.8e-5},{"i":57500,"o":1.8e-5,"p":1.06e-4},{"i":58500,"o":1.44e-5,"p":7.3e-5},{"i":59500,"o":1.58e-5,"p":9.1e-5},
{"i":60500,"o":1.23e-5,"p":6.6e-5},{"i":61500,"o":1.66e-5,"p":1.0e-4},{"i":62500,"o":1.24e-5,"p":6.5e-5},{"i":63500,"o":1.43e-5,"p":8.3e-5},{"i":64500,"o":1.13e-5,"p":5.6e-5},{"i":65500,"o":1.7e-5,"p":1.04e-4},{"i":66500,"o":1.1e-5,"p":5.5e-5},{"i":67500,"o":1.35e-5,"p":7.5e-5},{"i":68500,"o":1.07e-5,"p":5.3e-5},{"i":69500,"o":1.18e-5,"p":6.4e-5},
{"i":70500,"o":9.7e-6,"p":4.7e-5},{"i":71500,"o":1.28e-5,"p":7.3e-5},{"i":72500,"o":9.7e-6,"p":4.7e-5},{"i":73500,"o":1.12e-5,"p":6.1e-5},{"i":74500,"o":8.7e-6,"p":4.1e-5},{"i":75500,"o":1.32e-5,"p":7.8e-5},{"i":76500,"o":8.6e-6,"p":4.2e-5},{"i":77500,"o":1.09e-5,"p":5.9e-5},{"i":78500,"o":8.6e-6,"p":4.2e-5},{"i":79500,"o":9.6e-6,"p":5.3e-5},
{"i":80500,"o":7.8e-6,"p":3.8e-5},{"i":81500,"o":1.04e-5,"p":5.9e-5},{"i":82500,"o":7.8e-6,"p":3.9e-5},{"i":83500,"o":9.1e-6,"p":5.0e-5},{"i":84500,"o":7.2e-6,"p":3.4e-5},{"i":85500,"o":1.09e-5,"p":6.4e-5},{"i":86500,"o":7.3e-6,"p":3.4e-5},{"i":87500,"o":9.1e-6,"p":4.75e-5},{"i":88500,"o":7.3e-6,"p":3.3e-5},{"i":89500,"o":8.2e-6,"p":4.1e-5},
{"i":90500,"o":6.7e-6,"p":3.1e-5},{"i":91500,"o":8.9e-6,"p":4.8e-5},{"i":92500,"o":6.8e-6,"p":3.15e-5},{"i":93500,"o":7.9e-6,"p":4.1e-5},{"i":94500,"o":6.3e-6,"p":2.7e-5},{"i":95500,"o":9.7e-6,"p":5.1e-5},{"i":96500,"o":6.4e-6,"p":2.8e-5},{"i":97500,"o":8.2e-6,"p":3.9e-5},{"i":98500,"o":6.6e-6,"p":2.7e-5},{"i":99500,"o":7.2e-6,"p":3.45e-5},
{"i":100500,"o":6.1e-6,"p":2.5e-5},{"i":101500,"o":8.3e-6,"p":3.9e-5},{"i":102500,"o":6.3e-6,"p":2.5e-5},{"i":103500,"o":7.5e-6,"p":3.3e-5},{"i":104500,"o":5.9e-6,"p":2.2e-5},{"i":105500,"o":9.2e-6,"p":4.2e-5},{"i":106500,"o":5.9e-6,"p":2.3e-5},{"i":107500,"o":7.6e-6,"p":3.2e-5},{"i":108500,"o":6.1e-6,"p":2.25e-5},{"i":109500,"o":6.9e-6,"p":2.9e-5},
{"i":110500,"o":5.7e-6,"p":2.1e-5},{"i":111500,"o":7.8e-6,"p":3.2e-5},{"i":112500,"o":6.0e-6,"p":2.2e-5},{"i":113500,"o":7.2e-6,"p":2.8e-5},{"i":114500,"o":5.5e-6,"p":1.9e-5},{"i":115500,"o":8.5e-6,"p":3.7e-5},{"i":116500,"o":5.7e-6,"p":2.0e-5},{"i":117500,"o":7.2e-6,"p":2.8e-5},{"i":118500,"o":5.8e-6,"p":2.0e-5},{"i":119500,"o":6.5e-6,"p":2.5e-5}
]
},
"concat": [
{"title": {"text": "Batch size = 256", "font": "Liberation Serif"}, "width": 393, "height": 298, "data": {"name": "d256"},
 "resolve": {"axis": {"x": "independent"}},
 "layer": [
  {"mark": {"type": "line", "clip": true, "strokeWidth": 3, "strokeJoin": "round"},
   "encoding": {
    "x": {"field": "i", "type": "quantitative", "scale": {"domain": [-6000, 126000], "nice": false, "zero": false}, "axis": {"orient": "bottom", "title": "Iteration", "values": [0, 50000, 100000], "labelExpr": "format(datum.value / 100000, '.1f')", "titleY": 58, "titleBaseline": "alphabetic"}},
    "y": {"field": "o", "type": "quantitative", "scale": {"type": "log", "domain": [1e-6, 1], "nice": false}, "axis": {"title": "Loss", "values": [1e-6, 1e-4, 1e-2, 1], "labelExpr": "datum.value > 0.5 ? '10⁰' : datum.value > 0.005 ? '10⁻²' : datum.value > 0.00005 ? '10⁻⁴' : '10⁻⁶'", "titleX": -67, "titleBaseline": "alphabetic"}},
    "color": {"datum": "ℒoperator", "type": "nominal", "scale": {"domain": ["ℒoperator", "ℒphysics"], "range": ["#1f77b4", "#ff7f0e"]}, "legend": {"title": null}}
   }},
  {"mark": {"type": "line", "clip": true, "strokeWidth": 3, "strokeJoin": "round"},
   "encoding": {
    "x": {"field": "i", "type": "quantitative", "scale": {"domain": [-6000, 126000], "nice": false, "zero": false}, "axis": {"orient": "bottom", "title": "×10⁵", "labels": false, "ticks": false, "domain": false, "titleX": 393, "titleY": 55, "titleAlign": "right", "titleBaseline": "alphabetic", "titleFontSize": 25}},
    "y": {"field": "p", "type": "quantitative", "scale": {"type": "log", "domain": [1e-6, 1], "nice": false}, "axis": {"title": "Loss", "values": [1e-6, 1e-4, 1e-2, 1], "labelExpr": "datum.value > 0.5 ? '10⁰' : datum.value > 0.005 ? '10⁻²' : datum.value > 0.00005 ? '10⁻⁴' : '10⁻⁶'", "titleX": -67, "titleBaseline": "alphabetic"}},
    "color": {"datum": "ℒphysics", "type": "nominal"}
   }}
 ]},
{"title": {"text": "Batch size = 1024", "font": "Liberation Serif"}, "width": 393, "height": 298, "data": {"name": "d1024"},
 "resolve": {"axis": {"x": "independent"}},
 "layer": [
  {"mark": {"type": "line", "clip": true, "strokeWidth": 3, "strokeJoin": "round"},
   "encoding": {
    "x": {"field": "i", "type": "quantitative", "scale": {"domain": [-6000, 126000], "nice": false, "zero": false}, "axis": {"orient": "bottom", "title": "Iteration", "values": [0, 50000, 100000], "labelExpr": "format(datum.value / 100000, '.1f')", "titleY": 58, "titleBaseline": "alphabetic"}},
    "y": {"field": "o", "type": "quantitative", "scale": {"type": "log", "domain": [1e-6, 1], "nice": false}, "axis": {"title": "Loss", "values": [1e-6, 1e-4, 1e-2, 1], "labelExpr": "datum.value > 0.5 ? '10⁰' : datum.value > 0.005 ? '10⁻²' : datum.value > 0.00005 ? '10⁻⁴' : '10⁻⁶'", "titleX": -67, "titleBaseline": "alphabetic"}},
    "color": {"datum": "ℒoperator", "type": "nominal", "scale": {"domain": ["ℒoperator", "ℒphysics"], "range": ["#1f77b4", "#ff7f0e"]}, "legend": {"title": null}}
   }},
  {"mark": {"type": "line", "clip": true, "strokeWidth": 3, "strokeJoin": "round"},
   "encoding": {
    "x": {"field": "i", "type": "quantitative", "scale": {"domain": [-6000, 126000], "nice": false, "zero": false}, "axis": {"orient": "bottom", "title": "×10⁵", "labels": false, "ticks": false, "domain": false, "titleX": 393, "titleY": 55, "titleAlign": "right", "titleBaseline": "alphabetic", "titleFontSize": 25}},
    "y": {"field": "p", "type": "quantitative", "scale": {"type": "log", "domain": [1e-6, 1], "nice": false}, "axis": {"title": "Loss", "values": [1e-6, 1e-4, 1e-2, 1], "labelExpr": "datum.value > 0.5 ? '10⁰' : datum.value > 0.005 ? '10⁻²' : datum.value > 0.00005 ? '10⁻⁴' : '10⁻⁶'", "titleX": -67, "titleBaseline": "alphabetic"}},
    "color": {"datum": "ℒphysics", "type": "nominal"}
   }}
 ]},
{"title": {"text": "Batch size = 4096", "font": "Liberation Serif"}, "width": 393, "height": 298, "data": {"name": "d4096"},
 "resolve": {"axis": {"x": "independent"}},
 "layer": [
  {"mark": {"type": "line", "clip": true, "strokeWidth": 3, "strokeJoin": "round"},
   "encoding": {
    "x": {"field": "i", "type": "quantitative", "scale": {"domain": [-6000, 126000], "nice": false, "zero": false}, "axis": {"orient": "bottom", "title": "Iteration", "values": [0, 50000, 100000], "labelExpr": "format(datum.value / 100000, '.1f')", "titleY": 58, "titleBaseline": "alphabetic"}},
    "y": {"field": "o", "type": "quantitative", "scale": {"type": "log", "domain": [1e-6, 1], "nice": false}, "axis": {"title": "Loss", "values": [1e-6, 1e-4, 1e-2, 1], "labelExpr": "datum.value > 0.5 ? '10⁰' : datum.value > 0.005 ? '10⁻²' : datum.value > 0.00005 ? '10⁻⁴' : '10⁻⁶'", "titleX": -67, "titleBaseline": "alphabetic"}},
    "color": {"datum": "ℒoperator", "type": "nominal", "scale": {"domain": ["ℒoperator", "ℒphysics"], "range": ["#1f77b4", "#ff7f0e"]}, "legend": {"title": null}}
   }},
  {"mark": {"type": "line", "clip": true, "strokeWidth": 3, "strokeJoin": "round"},
   "encoding": {
    "x": {"field": "i", "type": "quantitative", "scale": {"domain": [-6000, 126000], "nice": false, "zero": false}, "axis": {"orient": "bottom", "title": "×10⁵", "labels": false, "ticks": false, "domain": false, "titleX": 393, "titleY": 55, "titleAlign": "right", "titleBaseline": "alphabetic", "titleFontSize": 25}},
    "y": {"field": "p", "type": "quantitative", "scale": {"type": "log", "domain": [1e-6, 1], "nice": false}, "axis": {"title": "Loss", "values": [1e-6, 1e-4, 1e-2, 1], "labelExpr": "datum.value > 0.5 ? '10⁰' : datum.value > 0.005 ? '10⁻²' : datum.value > 0.00005 ? '10⁻⁴' : '10⁻⁶'", "titleX": -67, "titleBaseline": "alphabetic"}},
    "color": {"datum": "ℒphysics", "type": "nominal"}
   }}
 ]},
{"title": {"text": "Batch size = 8192", "font": "Liberation Serif"}, "width": 393, "height": 298, "data": {"name": "d8192"},
 "resolve": {"axis": {"x": "independent"}},
 "layer": [
  {"mark": {"type": "line", "clip": true, "strokeWidth": 3, "strokeJoin": "round"},
   "encoding": {
    "x": {"field": "i", "type": "quantitative", "scale": {"domain": [-6000, 126000], "nice": false, "zero": false}, "axis": {"orient": "bottom", "title": "Iteration", "values": [0, 50000, 100000], "labelExpr": "format(datum.value / 100000, '.1f')", "titleY": 58, "titleBaseline": "alphabetic"}},
    "y": {"field": "o", "type": "quantitative", "scale": {"type": "log", "domain": [1e-6, 1], "nice": false}, "axis": {"title": "Loss", "values": [1e-6, 1e-4, 1e-2, 1], "labelExpr": "datum.value > 0.5 ? '10⁰' : datum.value > 0.005 ? '10⁻²' : datum.value > 0.00005 ? '10⁻⁴' : '10⁻⁶'", "titleX": -67, "titleBaseline": "alphabetic"}},
    "color": {"datum": "ℒoperator", "type": "nominal", "scale": {"domain": ["ℒoperator", "ℒphysics"], "range": ["#1f77b4", "#ff7f0e"]}, "legend": {"title": null}}
   }},
  {"mark": {"type": "line", "clip": true, "strokeWidth": 3, "strokeJoin": "round"},
   "encoding": {
    "x": {"field": "i", "type": "quantitative", "scale": {"domain": [-6000, 126000], "nice": false, "zero": false}, "axis": {"orient": "bottom", "title": "×10⁵", "labels": false, "ticks": false, "domain": false, "titleX": 393, "titleY": 55, "titleAlign": "right", "titleBaseline": "alphabetic", "titleFontSize": 25}},
    "y": {"field": "p", "type": "quantitative", "scale": {"type": "log", "domain": [1e-6, 1], "nice": false}, "axis": {"title": "Loss", "values": [1e-6, 1e-4, 1e-2, 1], "labelExpr": "datum.value > 0.5 ? '10⁰' : datum.value > 0.005 ? '10⁻²' : datum.value > 0.00005 ? '10⁻⁴' : '10⁻⁶'", "titleX": -67, "titleBaseline": "alphabetic"}},
    "color": {"datum": "ℒphysics", "type": "nominal"}
   }}
 ]}
]
}
